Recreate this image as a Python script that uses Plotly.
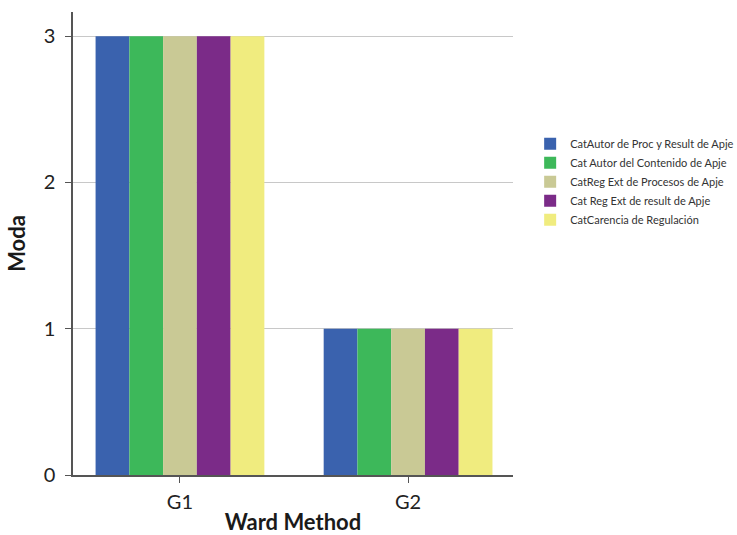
import plotly.graph_objects as go

categories = ["G1", "G2"]
series_names = [
    "CatAutor de Proc y Result de Apje",
    "Cat Autor del Contenido de Apje",
    "CatReg Ext de Procesos de Apje",
    "Cat Reg Ext de result de Apje",
    "CatCarencia de Regulación",
]
series_values = [
    [3, 1],
    [3, 1],
    [3, 1],
    [3, 1],
    [3, 1],
]
colors = ["#3a62ae", "#3db85a", "#c9c995", "#7b2b88", "#f0ec7f"]

fig = go.Figure()
for name, vals, c in zip(series_names, series_values, colors):
    fig.add_trace(go.Bar(x=categories, y=vals, name=name, marker=dict(color=c, line=dict(width=0))))

font_family = "Lato, Open Sans, sans-serif"
fig.update_layout(
    width=737, height=535,
    margin=dict(l=73, r=224, t=12, b=60, autoexpand=False),
    paper_bgcolor="white", plot_bgcolor="white",
    barmode="group", bargap=0.26, bargroupgap=0,
    font=dict(family=font_family, color="#222222"),
    legend=dict(x=1.039, y=0.747, xanchor="left", yanchor="top",
                font=dict(size=11, color="#333333"), tracegroupgap=0,
                itemwidth=30),
    xaxis=dict(
        range=[-0.469, 1.46], showline=True, linecolor="#555555", linewidth=1.5,
        ticks="outside", ticklen=6, tickcolor="#555555",
        tickfont=dict(size=20, color="#222222"), ticklabelstandoff=2,
        title=dict(text="<b>Ward Method</b>", font=dict(size=22, color="#1a1a1a", weight=900), standoff=4),
        showgrid=False, zeroline=False,
    ),
    yaxis=dict(
        range=[0, 3.165], showline=True, linecolor="#555555", linewidth=1.5,
        ticks="outside", ticklen=6, tickcolor="#555555",
        tickvals=[0, 1, 2, 3], ticklabelstandoff=6,
        tickfont=dict(size=20, color="#222222"),
        title=dict(text="<b>Moda</b>", font=dict(size=22, color="#1a1a1a", weight=900), standoff=12),
        showgrid=True, gridcolor="#c8c8c8", gridwidth=1, zeroline=False,
    ),
)

fig.write_html("out.html", config={"displayModeBar": False},
               post_script="document.body.style.margin='0px';")
